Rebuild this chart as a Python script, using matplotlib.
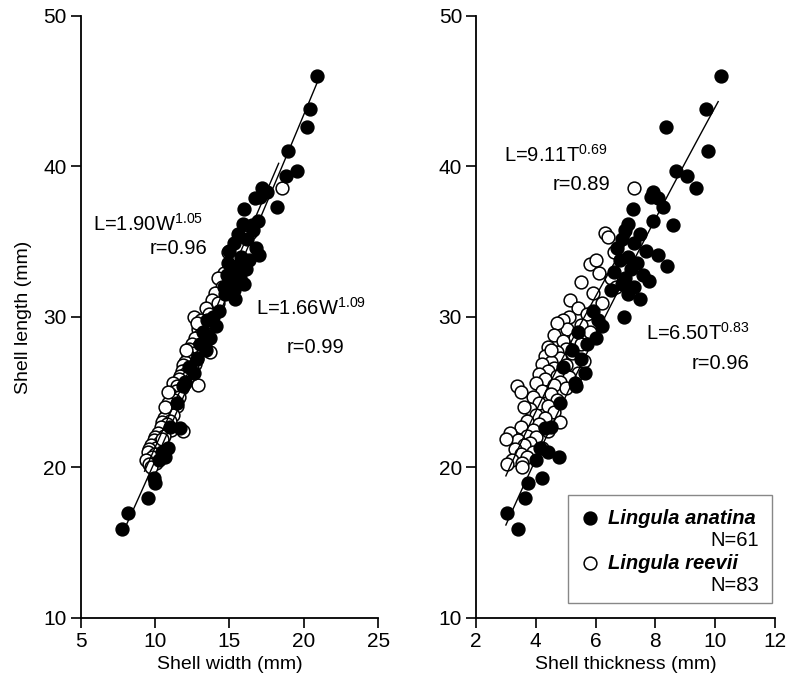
import matplotlib
matplotlib.use("Agg")
import matplotlib.pyplot as plt
from matplotlib.patches import Rectangle
import numpy as np

plt.rcParams['font.family'] = ['Liberation Sans', 'DejaVu Sans']
plt.rcParams['mathtext.fontset'] = 'custom'
plt.rcParams['mathtext.rm'] = 'Liberation Sans'

# Lingula anatina (filled), N=61: shell length, width, thickness (mm)
anatina_length = [46.0, 43.8, 42.6, 41.0, 39.7, 39.4, 38.6, 38.3, 38.0, 37.9, 37.3, 37.2, 36.4, 36.2, 36.1,
                  35.8, 35.5, 35.2, 34.9, 34.6, 34.4, 34.1, 34.0, 33.8, 33.6, 33.4, 33.2, 33.0, 32.8, 32.6,
                  32.4, 32.2, 32.0, 31.8, 31.5, 31.2,
                  30.4, 30.0, 29.8, 29.4, 29.0, 28.6, 28.2, 27.8, 27.2, 26.7, 26.3, 25.6, 25.4, 24.3,
                  22.7, 22.6, 21.3, 21.0, 20.7, 20.5, 19.3, 19.0, 18.0, 17.0, 15.9]
anatina_width = [20.9, 20.4, 20.2, 18.9, 19.5, 18.8, 17.2, 17.5, 17.05, 16.7, 18.2, 16.0, 16.9, 15.9, 16.5,
                 16.6, 15.6, 16.2, 15.3, 16.8, 15.0, 17.0, 15.8, 16.3, 14.9, 15.5, 16.1, 15.2, 14.8, 15.7,
                 15.0, 16.0, 14.6, 15.3, 14.7, 15.4,
                 14.3, 13.9, 13.5, 14.1, 13.2, 13.7, 13.0, 13.4, 12.8, 12.3, 12.6, 12.0, 11.9, 11.5,
                 11.0, 11.7, 10.9, 10.5, 10.7, 10.3, 9.9, 10.0, 9.5, 8.2, 7.8]
anatina_thick = [10.2, 9.7, 8.35, 9.75, 8.7, 9.05, 9.35, 7.92, 7.85, 8.1, 8.25, 7.24, 7.92, 7.1, 8.6,
                 7.0, 7.5, 6.9, 7.3, 6.7, 7.7, 8.1, 7.1, 6.8, 7.4, 8.4, 7.2, 6.6, 7.6, 7.0,
                 7.8, 6.9, 7.3, 6.5, 7.1, 7.5,
                 5.9, 6.95, 6.07, 6.2, 5.4, 6.0, 5.7, 5.2, 5.5, 4.9, 5.66, 5.3, 5.33, 4.82,
                 4.5, 4.32, 4.15, 4.4, 4.76, 4.0, 4.2, 3.75, 3.65, 3.04, 3.4]

# Lingula reevii (open), N=83
reevii_length = [38.6, 35.6, 35.3,
                 34.3, 33.5, 32.9, 32.6, 32.0, 32.3, 33.8, 31.6,
                 31.1, 30.6, 30.0, 30.2, 29.8, 29.5, 29.2, 29.0, 30.9, 29.6,
                 28.8, 28.6, 28.4, 28.2, 28.0, 27.9, 27.7, 27.6, 27.4, 27.3, 27.1, 27.0, 26.9, 26.8, 26.6,
                 26.5, 26.4, 26.3, 26.2, 26.1, 26.0, 27.8,
                 25.9, 25.7, 25.6, 25.5, 25.4, 25.3, 25.1, 24.9, 24.7, 24.5, 24.3, 24.1, 23.9, 23.7, 23.5,
                 23.3, 23.1, 23.0, 24.0, 25.0,
                 22.9, 22.7, 22.5, 22.4, 22.3, 22.1, 22.0, 21.8, 21.6, 21.5, 21.3, 21.2, 21.0, 20.9, 20.7,
                 20.5, 20.3, 20.2, 20.0, 21.9]
reevii_width = [18.5, 16.4, 16.0,
                14.9, 15.2, 14.6, 14.2, 14.5, 15.0, 15.6, 14.0,
                13.8, 13.4, 12.6, 13.6, 13.1, 13.9, 12.9, 13.3, 14.2, 12.8,
                13.0, 12.7, 13.4, 12.5, 12.9, 12.3, 13.7, 12.6, 12.2, 12.8, 12.4, 12.0, 12.7, 11.9, 12.5,
                12.1, 11.8, 12.4, 12.0, 11.7, 12.2, 12.1,
                11.6, 12.0, 11.2, 12.9, 11.5, 11.8, 11.4, 11.0, 11.6, 11.3, 10.9, 11.5, 11.1, 10.8, 11.2,
                10.6, 11.0, 10.5, 10.7, 10.9,
                10.8, 10.4, 11.1, 11.9, 10.2, 10.6, 10.0, 9.9, 10.3, 9.7, 10.1, 9.6, 9.5, 10.0, 9.8,
                9.4, 10.1, 9.6, 9.7, 10.5]
reevii_thick = [7.3, 6.3, 6.4,
                6.6, 5.8, 6.1, 6.5, 6.67, 5.5, 6.0, 5.9,
                5.16, 5.4, 5.1, 5.7, 4.9, 5.5, 5.05, 5.8, 6.2, 4.7,
                4.6, 5.3, 4.9, 5.5, 4.4, 5.0, 4.7, 5.2, 4.3, 4.8, 5.6, 4.5, 4.2, 5.0, 4.6,
                4.9, 4.4, 5.4, 4.1, 4.7, 5.1, 4.5,
                4.3, 4.8, 4.0, 4.6, 3.38, 5.0, 4.2, 4.5, 3.9, 4.7, 4.1, 4.4, 3.8, 4.6, 4.0,
                4.3, 3.7, 4.82, 3.6, 3.5,
                4.1, 3.5, 3.9, 4.4, 3.14, 3.7, 4.0, 3.4, 3.8, 3.6, 4.2, 3.3, 3.9, 3.5, 3.7,
                3.2, 3.55, 3.04, 3.55, 3.0]

# power-law fits L = a * X^b, with the range each line covers
fit_width = {'reevii': (1.90, 1.05, 9.3, 18.3), 'anatina': (1.66, 1.09, 7.8, 20.9)}
fit_thick = {'reevii': (9.11, 0.69, 3.0, 7.2), 'anatina': (6.50, 0.83, 3.0, 10.1)}

fig = plt.figure(figsize=(7.9, 6.83), dpi=100)
ax1 = fig.add_axes([0.1019, 0.0952, 0.3772, 0.8814])
ax2 = fig.add_axes([0.6025, 0.0952, 0.3785, 0.8814])


def style_axes(ax):
    for side in ['top', 'right']:
        ax.spines[side].set_visible(False)
    for side in ['left', 'bottom']:
        ax.spines[side].set_linewidth(1.3)
    ax.tick_params(direction='out', length=7, width=1.2, labelsize=15, pad=3)
    ax.set_ylim(10, 50)
    ax.set_yticks([10, 20, 30, 40, 50])


def draw_fit(ax, a, b, x0, x1):
    xs = np.linspace(x0, x1, 50)
    ax.plot(xs, a * xs ** b, color='black', lw=1.0, zorder=4)


mk = dict(linestyle='none', marker='o', markersize=9.2, markeredgewidth=1.1, markeredgecolor='black')

# left: length vs width
ax1.plot(reevii_width, reevii_length, markerfacecolor='white', zorder=2, **mk)
ax1.plot(anatina_width, anatina_length, markerfacecolor='black', zorder=3, **mk)
for a, b, x0, x1 in fit_width.values():
    draw_fit(ax1, a, b, x0, x1)
style_axes(ax1)
ax1.set_xlim(5, 25)
ax1.set_xticks([5, 10, 15, 20, 25])
ax1.set_xlabel('Shell width (mm)', fontsize=14, labelpad=4)
ax1.set_ylabel('Shell length (mm)', fontsize=14, labelpad=8)
ax1.text(0.043, 0.655, 'L=1.90W$^{\\mathregular{1.05}}$', transform=ax1.transAxes, fontsize=14.5,
         ha='left', va='center')
ax1.text(0.425, 0.613, 'r=0.96', transform=ax1.transAxes, fontsize=14.5, ha='right', va='center')
ax1.text(0.59, 0.515, 'L=1.66W$^{\\mathregular{1.09}}$', transform=ax1.transAxes, fontsize=14.5,
         ha='left', va='center')
ax1.text(0.885, 0.45, 'r=0.99', transform=ax1.transAxes, fontsize=14.5, ha='right', va='center')

# right: length vs thickness
ax2.plot(reevii_thick, reevii_length, markerfacecolor='white', zorder=2, **mk)
ax2.plot(anatina_thick, anatina_length, markerfacecolor='black', zorder=3, **mk)
for a, b, x0, x1 in fit_thick.values():
    draw_fit(ax2, a, b, x0, x1)
style_axes(ax2)
ax2.set_xlim(2, 12)
ax2.set_xticks([2, 4, 6, 8, 10, 12])
ax2.set_xlabel('Shell thickness (mm)', fontsize=14, labelpad=4)
ax2.text(0.095, 0.77, 'L=9.11T$^{\\mathregular{0.69}}$', transform=ax2.transAxes, fontsize=14.5,
         ha='left', va='center')
ax2.text(0.45, 0.72, 'r=0.89', transform=ax2.transAxes, fontsize=14.5, ha='right', va='center')
ax2.text(0.57, 0.473, 'L=6.50T$^{\\mathregular{0.83}}$', transform=ax2.transAxes, fontsize=14.5,
         ha='left', va='center')
ax2.text(0.915, 0.423, 'r=0.96', transform=ax2.transAxes, fontsize=14.5, ha='right', va='center')

# hand-made legend box
ax2.add_patch(Rectangle((0.308, 0.025), 0.682, 0.179, transform=ax2.transAxes, facecolor='white',
                        edgecolor='#888888', lw=1.0, zorder=5))
ax2.plot([0.381], [0.166], transform=ax2.transAxes, markerfacecolor='black', zorder=6, clip_on=False, **mk)
ax2.plot([0.381], [0.091], transform=ax2.transAxes, markerfacecolor='white', zorder=6, clip_on=False, **mk)
ax2.text(0.441, 0.166, 'Lingula anatina', transform=ax2.transAxes, fontsize=14.5, fontstyle='italic',
         fontweight='bold', ha='left', va='center', zorder=7)
ax2.text(0.946, 0.129, 'N=61', transform=ax2.transAxes, fontsize=14.5, ha='right', va='center', zorder=7)
ax2.text(0.441, 0.091, 'Lingula reevii', transform=ax2.transAxes, fontsize=14.5, fontstyle='italic',
         fontweight='bold', ha='left', va='center', zorder=7)
ax2.text(0.946, 0.054, 'N=83', transform=ax2.transAxes, fontsize=14.5, ha='right', va='center', zorder=7)

fig.savefig('out.png', dpi=100)
